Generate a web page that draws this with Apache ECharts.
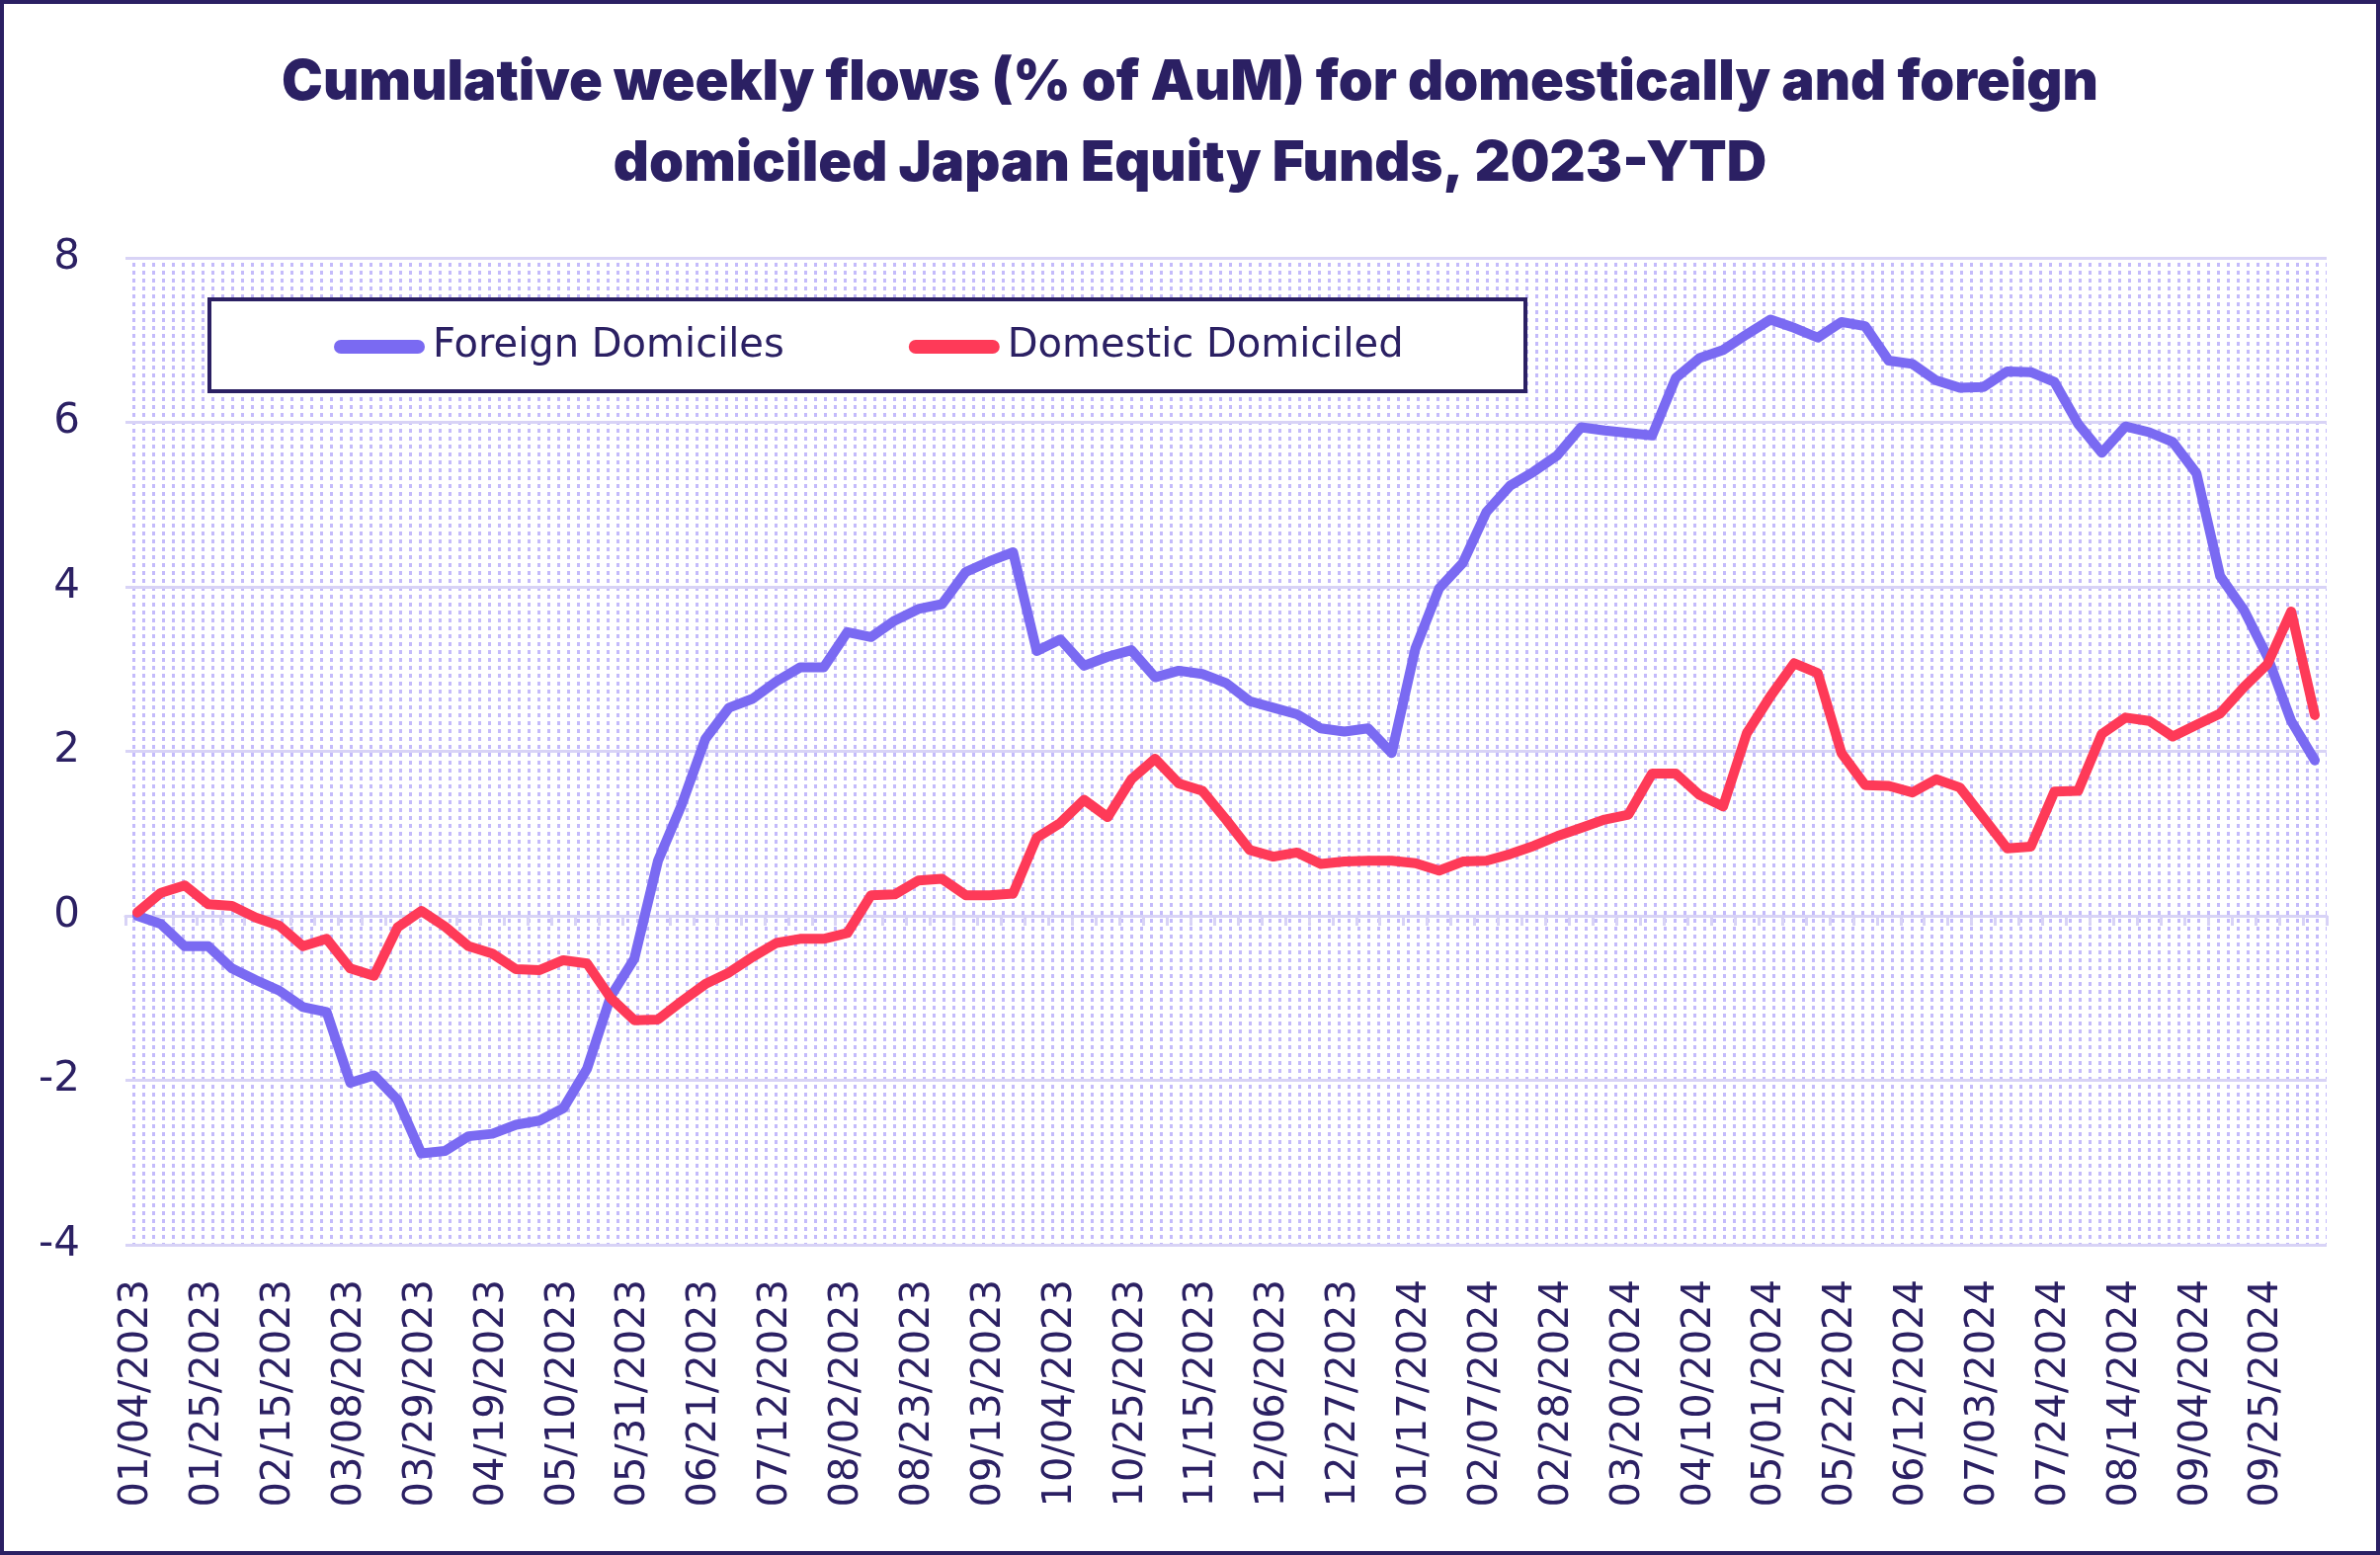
<!DOCTYPE html>
<html>
<head>
<meta charset="utf-8">
<script src="https://cdn.jsdelivr.net/npm/echarts@6/dist/echarts.min.js"></script>
<style>
html,body{margin:0;padding:0;background:#fff;}
#chart{width:2409px;height:1574px;}
</style>
</head>
<body>
<div id="chart"></div>
<script>
const titleLines = ['Cumulative weekly flows (% of AuM) for domestically and foreign', 'domiciled Japan Equity Funds, 2023-YTD'];
const seriesNames = ['Foreign Domiciles', 'Domestic Domiciled'];
const weeks = [
'01/04/2023','01/11/2023','01/18/2023','01/25/2023','02/01/2023','02/08/2023','02/15/2023','02/22/2023',
'03/01/2023','03/08/2023','03/15/2023','03/22/2023','03/29/2023','04/05/2023','04/12/2023','04/19/2023','04/26/2023',
'05/03/2023','05/10/2023','05/17/2023','05/24/2023','05/31/2023','06/07/2023','06/14/2023','06/21/2023','06/28/2023',
'07/05/2023','07/12/2023','07/19/2023','07/26/2023','08/02/2023','08/09/2023','08/16/2023','08/23/2023','08/30/2023',
'09/06/2023','09/13/2023','09/20/2023','09/27/2023','10/04/2023','10/11/2023','10/18/2023','10/25/2023',
'11/01/2023','11/08/2023','11/15/2023','11/22/2023','11/29/2023','12/06/2023','12/13/2023','12/20/2023','12/27/2023',
'01/03/2024','01/10/2024','01/17/2024','01/24/2024','01/31/2024','02/07/2024','02/14/2024','02/21/2024','02/28/2024',
'03/06/2024','03/13/2024','03/20/2024','03/27/2024','04/03/2024','04/10/2024','04/17/2024','04/24/2024',
'05/01/2024','05/08/2024','05/15/2024','05/22/2024','05/29/2024','06/05/2024','06/12/2024','06/19/2024','06/26/2024',
'07/03/2024','07/10/2024','07/17/2024','07/24/2024','07/31/2024','08/07/2024','08/14/2024','08/21/2024','08/28/2024',
'09/04/2024','09/11/2024','09/18/2024','09/25/2024','10/02/2024','10/09/2024'
];
const foreignDomiciles = [
0, -0.10, -0.37, -0.37, -0.64, -0.78, -0.91, -1.11, -1.17, -2.03,
-1.94, -2.24, -2.89, -2.86, -2.68, -2.65, -2.54, -2.49, -2.34, -1.86,
-0.98, -0.52, 0.67, 1.35, 2.15, 2.53, 2.64, 2.85, 3.02, 3.02,
3.45, 3.39, 3.59, 3.73, 3.79, 4.18, 4.31, 4.42, 3.22, 3.36,
3.04, 3.15, 3.23, 2.90, 2.98, 2.94, 2.83, 2.61, 2.53, 2.45,
2.28, 2.24, 2.28, 1.98, 3.25, 3.98, 4.29, 4.91, 5.23, 5.40,
5.60, 5.94, 5.90, 5.87, 5.84, 6.54, 6.78, 6.88, 7.07, 7.25,
7.15, 7.03, 7.22, 7.17, 6.75, 6.71, 6.51, 6.42, 6.43, 6.62,
6.61, 6.49, 5.98, 5.63, 5.95, 5.88, 5.76, 5.38, 4.13, 3.72,
3.15, 2.37, 1.89
];
const domesticDomiciled = [
0.04, 0.28, 0.37, 0.14, 0.12, -0.02, -0.12, -0.37, -0.28, -0.64,
-0.73, -0.14, 0.06, -0.13, -0.37, -0.46, -0.65, -0.66, -0.54, -0.58,
-1.00, -1.27, -1.26, -1.04, -0.83, -0.69, -0.50, -0.33, -0.28, -0.28,
-0.21, 0.25, 0.26, 0.43, 0.45, 0.25, 0.25, 0.27, 0.95, 1.13,
1.41, 1.20, 1.66, 1.91, 1.61, 1.52, 1.17, 0.80, 0.72, 0.77,
0.63, 0.66, 0.67, 0.67, 0.64, 0.55, 0.66, 0.67, 0.75, 0.85,
0.97, 1.07, 1.17, 1.23, 1.73, 1.73, 1.47, 1.33, 2.22, 2.67,
3.07, 2.95, 1.98, 1.59, 1.58, 1.50, 1.66, 1.56, 1.19, 0.82,
0.84, 1.51, 1.52, 2.21, 2.41, 2.37, 2.18, 2.32, 2.46, 2.78,
3.06, 3.70, 2.44
];
const yMin = -4, yMax = 8, yStep = 2;

const NAVY = '#2b2063';
const BLUE = '#7a6af2';
const RED = '#fe3a58';
const GRIDC = '#d8d3f6';

// dotted background pattern
const pc = document.createElement('canvas');
pc.width = 10; pc.height = 8;
const pctx = pc.getContext('2d');
pctx.fillStyle = '#ffffff';
pctx.fillRect(0, 0, 10, 8);
pctx.fillStyle = '#c4bbfb';
pctx.fillRect(4, 2, 3, 4);

const labelFont = "'DejaVu Sans', sans-serif";

const chart = echarts.init(document.getElementById('chart'), null, {renderer: 'canvas'});
chart.setOption({
  backgroundColor: '#ffffff',
  animation: false,
  title: {
    text: titleLines.join('\n'),
    left: 'center',
    top: 43,
    padding: 0,
    textStyle: {
      fontFamily: "Inter, sans-serif",
      fontWeight: 900,
      fontSize: 56,
      lineHeight: 82,
      color: NAVY
    }
  },
  legend: {
    data: seriesNames,
    left: 338,
    top: 326,
    padding: 0,
    itemWidth: 92,
    itemHeight: 14,
    itemGap: 126,
    icon: 'path://M7,0 L85,0 A7,7 0 0 1 85,14 L7,14 A7,7 0 0 1 7,0 Z',
    textStyle: {
      fontFamily: labelFont,
      fontSize: 40,
      lineHeight: 50,
      color: NAVY,
      padding: [0, 0, 0, 3]
    },
    z: 10
  },
  graphic: [
    {
      type: 'rect',
      z: 5,
      shape: {x: 212, y: 303, width: 1332, height: 93},
      style: {fill: '#ffffff', stroke: NAVY, lineWidth: 4}
    },
    {
      type: 'rect',
      z: 100,
      silent: true,
      shape: {x: 2, y: 2, width: 2405, height: 1570},
      style: {fill: null, stroke: NAVY, lineWidth: 4}
    }
  ],
  grid: {
    left: 127,
    right: 54,
    top: 261,
    bottom: 314,
    containLabel: false,
    outerBoundsMode: 'none',
    show: true,
    borderWidth: 0,
    backgroundColor: {image: pc, repeat: 'repeat'}
  },
  xAxis: [
    {
      type: 'category',
      data: weeks,
      boundaryGap: true,
      position: 'bottom',
      axisLine: {show: false, onZero: false},
      axisTick: {show: false},
      splitLine: {show: false},
      axisLabel: {
        interval: 2,
        rotate: 90,
        margin: 35,
        color: NAVY,
        fontFamily: labelFont,
        fontSize: 40
      }
    },
    {
      type: 'category',
      data: weeks,
      boundaryGap: true,
      position: 'bottom',
      axisLine: {show: true, onZero: true, lineStyle: {color: GRIDC, width: 3}},
      axisTick: {show: true, interval: 0, length: 10, lineStyle: {color: GRIDC, width: 3}},
      axisLabel: {show: false},
      splitLine: {show: false}
    }
  ],
  yAxis: {
    type: 'value',
    min: yMin,
    max: yMax,
    interval: yStep,
    axisLine: {show: false},
    axisTick: {show: false},
    splitLine: {show: true, lineStyle: {color: GRIDC, width: 3}},
    axisLabel: {
      margin: 46,
      color: NAVY,
      fontFamily: labelFont,
      fontSize: 42
    }
  },
  series: [
    {
      name: seriesNames[0],
      type: 'line',
      data: foreignDomiciles,
      xAxisIndex: 0,
      symbol: 'none',
      itemStyle: {color: BLUE},
      lineStyle: {color: BLUE, width: 10, cap: 'round', join: 'round'},
      z: 3
    },
    {
      name: seriesNames[1],
      type: 'line',
      data: domesticDomiciled,
      xAxisIndex: 0,
      symbol: 'none',
      itemStyle: {color: RED},
      lineStyle: {color: RED, width: 10, cap: 'round', join: 'round'},
      z: 4
    }
  ]
});
</script>
</body>
</html>
